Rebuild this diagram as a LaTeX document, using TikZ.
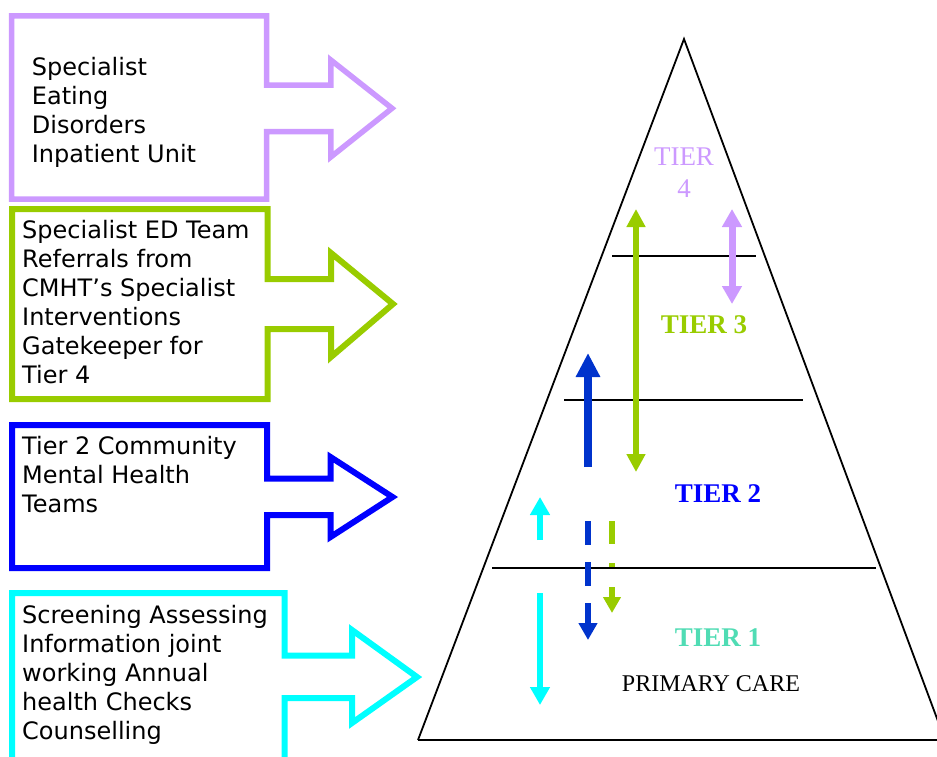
\documentclass[tikz,border=0pt]{standalone}
\usepackage{fontspec}
\setmainfont{Liberation Serif}
\newfontfamily\boxfont{DejaVu Sans}
\usetikzlibrary{arrows.meta}
\definecolor{tpurple}{HTML}{CC99FF}
\definecolor{tgreen}{HTML}{99CC00}
\definecolor{tblue}{HTML}{0000FF}
\definecolor{tdblue}{HTML}{0033CC}
\definecolor{tcyan}{HTML}{00FFFF}
\definecolor{tmint}{HTML}{50DCB4}
\tikzset{
  callout/.style={line width=6pt, line join=miter},
  boxtext/.style={anchor=base west, align=left, inner sep=0pt, font=\boxfont\fontsize{24}{29}\selectfont},
  tierlbl/.style={anchor=base, align=center, inner sep=0pt, font=\fontsize{27}{32}\selectfont\bfseries},
  tierplain/.style={anchor=base, align=center, inner sep=0pt, font=\fontsize{27}{32}\selectfont},
  pyr/.style={line width=1.8pt, black},
}
\begin{document}
\begin{tikzpicture}[x=1pt,y=-1pt]
\useasboundingbox (0,0) rectangle (937,756);
\clip (0,0) rectangle (937,756);
% callout boxes
\draw[callout, tpurple, line width=5.5pt] (266.7,85) -- (330.8,85) -- (330.8,60) -- (392,108.3) -- (330.8,157) -- (330.8,131.7) -- (266.7,131.7) -- (266.7,199) -- (11.5,199) -- (11.5,15.8) -- (266.7,15.8) -- cycle;
\draw[callout, tgreen] (267.5,279) -- (331,279) -- (331,253) -- (393,304) -- (331,357) -- (331,329) -- (267.5,329) -- (267.5,399) -- (12,399) -- (12,209) -- (267.5,209) -- cycle;
\draw[callout, tblue] (267,478.5) -- (330.5,478.5) -- (330.5,457) -- (392.5,497) -- (330.5,537) -- (330.5,515) -- (267,515) -- (267,568) -- (12,568) -- (12,425) -- (267,425) -- cycle;
\draw[callout, tcyan] (284.5,655.5) -- (352,655.5) -- (352,630) -- (417,677) -- (352,723) -- (352,698) -- (284.5,698) -- (284.5,800) -- (12,800) -- (12,593) -- (284.5,593) -- cycle;
% box texts (base anchor = baseline of the last line)
\node[boxtext] (t4text) at (31.7,162) {Specialist\\Eating\\Disorders\\Inpatient Unit};
\node[boxtext] (t3text) at (22,383) {Specialist ED Team\\Referrals from\\CMHT’s Specialist\\Interventions\\Gatekeeper for\\Tier 4};
\node[boxtext] (t2text) at (22,512) {Tier 2 Community\\Mental Health\\Teams};
\node[boxtext] (t1text) at (22,739) {Screening Assessing\\Information joint\\working Annual\\health Checks\\Counselling};
% pyramid
\draw[pyr] (418,740) -- (684,39) -- (945,740);
\draw[pyr] (418,740) -- (950,740);
\draw[pyr] (612,256) -- (756,256);
\draw[pyr] (564,400) -- (803,400);
\draw[pyr] (492,568) -- (876,568);
% tier labels
\node[tierplain, tpurple] (tier4) at (684,197) {TIER\\4};
\node[tierlbl, tgreen] (tier3) at (704,333) {TIER 3};
\node[tierlbl, tblue] (tier2) at (718,502) {TIER 2};
\node[tierlbl, tmint] (tier1) at (718,646) {TIER 1};
\node[anchor=base, inner sep=0pt, font=\fontsize{24}{28}\selectfont] (pc) at (711,691) {PRIMARY CARE};
% arrows
\draw[line width=8pt, tdblue, -{Triangle[width=23pt,length=24pt]}] (588,467) -- (588,353);
\draw[line width=6pt, tgreen, {Triangle[width=18pt,length=18pt]}-{Triangle[width=18pt,length=18pt]}] (636,209) -- (636,472);
\draw[line width=7pt, tpurple, {Triangle[width=19pt,length=18pt]}-{Triangle[width=19pt,length=18pt]}] (732,209) -- (732,304);
\draw[line width=6pt, tcyan, -{Triangle[width=19pt,length=18pt]}] (540,540) -- (540,497);
\draw[line width=6pt, tcyan, -{Triangle[width=19pt,length=18pt]}] (540,593) -- (540,705);
\draw[line width=6pt, tdblue, dash pattern=on 24pt off 17pt, -{Triangle[width=18pt,length=17pt]}] (588,521) -- (588,640);
\draw[line width=6pt, tgreen, dash pattern=on 23pt off 19pt on 4pt off 20pt, -{Triangle[width=17pt,length=16pt]}] (612,521) -- (612,613);
\end{tikzpicture}
\end{document}
